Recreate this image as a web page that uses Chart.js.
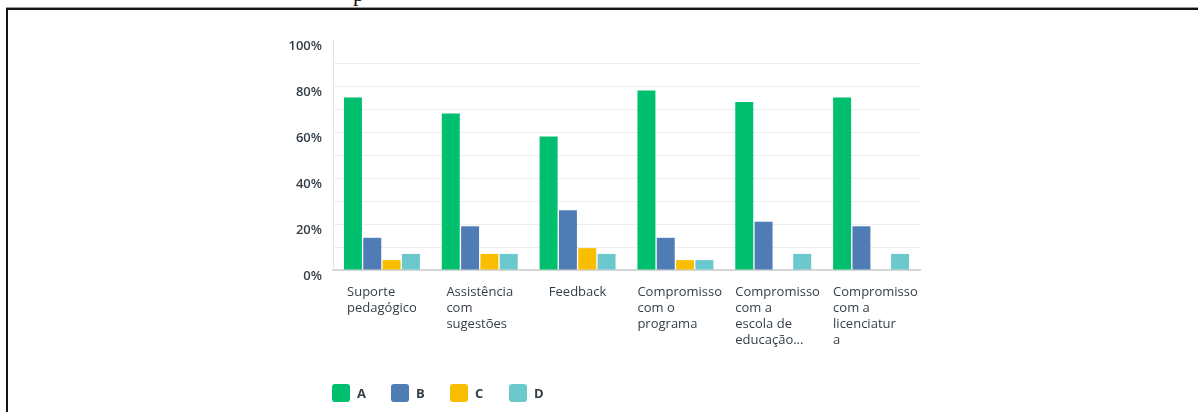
<!DOCTYPE html>
<html>
<head>
<meta charset="utf-8">
<script src="https://cdn.jsdelivr.net/npm/chart.js@4.4.0/dist/chart.umd.min.js"></script>
<style>
    html, body { margin: 0; padding: 0; background: #fff; width: 1198px; height: 412px; overflow: hidden; }
    .frame { position: absolute; left: 6px; top: 7px; right: -10px; bottom: -10px; border-top: 1px solid #9b9b9b; }
    .frame-inner { position: absolute; left: 0; top: 0; right: 0; bottom: 0; border-top: 2px solid #141414; border-left: 2px solid #141414; }
    .cut { position: absolute; left: 353px; top: -17px; font: 22px/22px "Liberation Serif", serif; color: #111; }
    #wrap { position: absolute; left: 0; top: 0; width: 1198px; height: 412px; }
    #legend { position: absolute; left: 332px; top: 384px; display: flex; }
    .item { width: 59px; display: flex; align-items: center; }
    .sw { width: 18px; height: 18px; border-radius: 3px; margin-right: 7px; }
    .lb { font: 700 13px "Open Sans", sans-serif; color: #333e48; }
</style>
</head>
<body>
<div class="cut">p</div>
<div class="frame"><div class="frame-inner"></div></div>
<div id="wrap"><canvas id="chart"></canvas></div>
<div id="legend"></div>

<script>
// 類別與各系列百分比
const labelLines = [
    ['Suporte', 'pedagógico'],
    ['Assistência', 'com', 'sugestões'],
    ['Feedback'],
    ['Compromisso', 'com o', 'programa'],
    ['Compromisso', 'com a', 'escola de', 'educação...'],
    ['Compromisso', 'com a', 'licenciatur', 'a']
];
const seriesNames = ['A', 'B', 'C', 'D'];
const seriesA = [75, 68, 58, 78, 73, 75];
const seriesB = [14, 19, 26, 14, 21, 19];
const seriesC = [4.3, 7, 9.5, 4.3, null, null];
const seriesD = [7, 7, 7, 4.3, 7, 7];
const yTickValues = [0, 10, 20, 30, 40, 50, 60, 70, 80, 90, 100];
const yLabelValues = [0, 20, 40, 60, 80, 100];

const colors = ['#00bf6f', '#507cb6', '#f9be00', '#6bc8cd'];
const textColor = '#333e48';

// x 軸標籤：多行文字，整塊置中但靠左對齊
const xLabelPlugin = {
    id: 'xLabels',
    afterDraw(chart) {
        const { ctx, scales: { x } } = chart;
        ctx.save();
        ctx.font = '13px "Open Sans"';
        ctx.fillStyle = textColor;
        ctx.textBaseline = 'middle';
        ctx.textAlign = 'left';
        labelLines.forEach((lines, i) => {
            const cx = x.getPixelForTick(i);
            const w = Math.max(...lines.map(l => ctx.measureText(l).width));
            const left = cx - Math.min(w / 2, 38);
            lines.forEach((l, j) => ctx.fillText(l, left, x.top + 22 + j * 16));
        });
        ctx.restore();
    }
};

const chart = new Chart(document.getElementById('chart'), {
    type: 'bar',
    data: {
        labels: labelLines.map(l => l.join(' ')),
        datasets: [seriesA, seriesB, seriesC, seriesD].map((d, i) => ({
            label: seriesNames[i],
            data: d,
            backgroundColor: colors[i],
            borderWidth: 0,
            categoryPercentage: 0.79,
            barPercentage: 0.93
        }))
    },
    options: {
        responsive: true,
        maintainAspectRatio: false,
        animation: false,
        layout: { padding: { left: 280, right: 278, top: 40, bottom: 0 } },
        plugins: { legend: { display: false }, tooltip: { enabled: false } },
        scales: {
            x: {
                afterFit(s) { s.height = 142; },
                grid: { display: false },
                border: { display: true, color: '#d6d6d6', width: 2 },
                ticks: { display: false }
            },
            y: {
                min: 0,
                max: 100,
                afterFit(s) { s.width = 53; },
                afterBuildTicks(s) { s.ticks = yTickValues.map(v => ({ value: v })); },
                border: { display: true, color: '#e3e3e3', width: 1 },
                grid: {
                    drawTicks: false,
                    color: c => (c.tick.value === 0 || c.tick.value === 100) ? 'rgba(0,0,0,0)' : '#eeeeee'
                },
                ticks: {
                    padding: 11,
                    labelOffset: 6,
                    color: textColor,
                    font: { family: 'Open Sans', size: 13, weight: '600' },
                    callback: v => yLabelValues.includes(v) ? v + '%' : ''
                }
            }
        }
    },
    plugins: [xLabelPlugin]
});

// 圖例
document.getElementById('legend').innerHTML = chart.data.datasets.map(ds => `
    <div class="item">
        <span class="sw" style="background:${ds.backgroundColor}"></span>
        <span class="lb">${ds.label}</span>
    </div>`).join('');
</script>
</body>
</html>
